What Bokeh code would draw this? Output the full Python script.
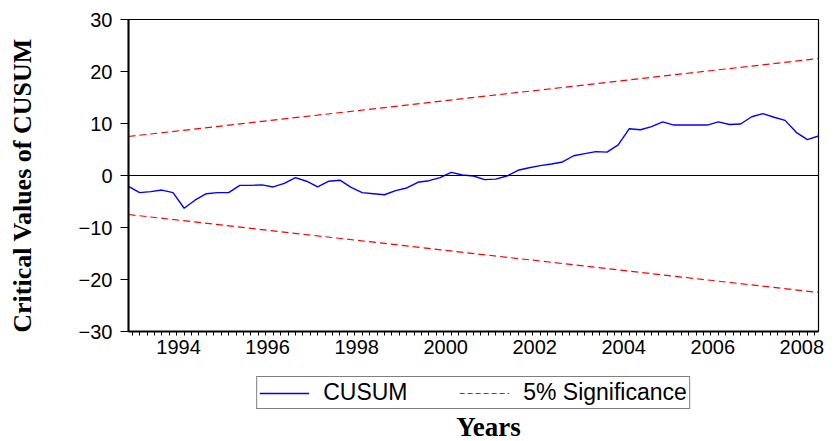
import math
import pandas as pd
from bokeh.plotting import figure
from bokeh.layouts import column, row
from bokeh.models import (Range1d, FixedTicker, CustomJSTickFormatter, Legend,
                          LegendItem, Span, Label)
from bokeh.embed import file_html
from bokeh.resources import INLINE

# ---- data ----
start_period = "1993Q2"
cusum = [-2.1, -3.3, -3.1, -2.8, -3.3, -6.3, -4.7, -3.5, -3.3, -3.3,
         -1.9, -1.9, -1.8, -2.2, -1.5, -0.4, -1.1, -2.2, -1.1, -0.9,
         -2.3, -3.3, -3.5, -3.7, -2.9, -2.4, -1.3, -1.0, -0.4, 0.6,
         0.1, -0.1, -0.8, -0.7, -0.1, 1.0, 1.5, 1.9, 2.2, 2.6,
         3.8, 4.2, 4.6, 4.5, 5.9, 9.0, 8.8, 9.4, 10.3, 9.7,
         9.7, 9.7, 9.7, 10.3, 9.8, 9.9, 11.3, 11.9, 11.2, 10.6,
         8.3, 6.9, 7.6]
upper_bound = [7.5, 22.5]
lower_bound = [-7.5, -22.5]
label_years = [1994, 1996, 1998, 2000, 2002, 2004, 2006, 2008]
y_ticks = [-30, -20, -10, 0, 10, 20, 30]
series_names = ["CUSUM", "5% Significance"]
y_title = "Critical Values of CUSUM"
x_title = "Years"

periods = pd.period_range(start_period, periods=len(cusum), freq="Q")
x = [p.year + (p.quarter - 1) / 4 for p in periods]
x_ends = [x[0], x[-1]]

BLUE = "#0000FF"
RED = "#FF0000"


def blank_figure(w, h, **kw):
    f = figure(width=w, height=h, output_backend="svg", toolbar_location=None,
               x_range=Range1d(0, 1), y_range=Range1d(0, 1),
               x_axis_type=None, y_axis_type=None, **kw)
    f.xgrid.visible = False
    f.ygrid.visible = False
    f.outline_line_color = None
    f.background_fill_color = "white"
    f.border_fill_color = "white"
    return f


# ---- left strip holding the y title (its frame is aligned with the chart's) ----
pl = blank_figure(40, 371, min_border_left=0, min_border_right=0,
                  min_border_top=0, min_border_bottom=0)
pl.add_layout(Label(x=22, y=146, x_units="screen", y_units="screen",
                    angle=math.pi / 2, text=y_title, text_align="center",
                    text_baseline="middle", text_font="Liberation Serif",
                    text_font_style="bold", text_font_size="26px",
                    text_color="black"))

# ---- main chart ----
p = figure(width=794, height=371, output_backend="svg", toolbar_location=None,
           x_range=Range1d(x[0], x[-1]), y_range=Range1d(-30, 30),
           min_border_left=88, min_border_right=16, min_border_top=19,
           min_border_bottom=40)
p.xgrid.visible = False
p.ygrid.visible = False
p.outline_line_color = "black"
p.outline_line_width = 1.2
p.background_fill_color = "white"
p.border_fill_color = "white"

p.add_layout(Span(location=0, dimension="width", line_color="black", line_width=1))

p.line(x, cusum, line_color=BLUE, line_width=1.4)
p.line(x_ends, upper_bound, line_color=RED, line_width=1.2, line_dash="7 4")
p.line(x_ends, lower_bound, line_color=RED, line_width=1.2, line_dash="7 4")

# x axis: quarterly data, year labels centred on each labelled year
minor = []
for yr in range(1993, 2010):
    for k in range(6):
        t = yr + k / 6
        if x[0] <= t <= x[-1] + 1e-9:
            minor.append(t)
xa = p.xaxis[0]
xa.ticker = FixedTicker(ticks=[yr + 0.375 for yr in label_years], minor_ticks=minor)
xa.formatter = CustomJSTickFormatter(code="return String(Math.floor(tick));")
xa.major_tick_out = 0
xa.major_tick_in = 0
xa.minor_tick_out = 4
xa.minor_tick_in = 0
xa.axis_line_width = 2
xa.major_label_text_font = "Liberation Sans"
xa.major_label_text_font_size = "20px"
xa.major_label_text_color = "black"
xa.major_label_standoff = 4

ya = p.yaxis[0]
ya.ticker = FixedTicker(ticks=y_ticks, minor_ticks=[])
ya.major_tick_out = 8
ya.major_tick_in = 0
ya.minor_tick_out = 0
ya.minor_tick_in = 0
ya.axis_line_width = 2
ya.major_label_text_font = "Liberation Sans"
ya.major_label_text_font_size = "20px"
ya.major_label_text_color = "black"
ya.major_label_standoff = 8

# ---- legend and x title strip below the chart ----
p2 = blank_figure(834, 70, min_border_left=128, min_border_right=16,
                  min_border_top=0, min_border_bottom=0)

nan = float("nan")
lr1 = p2.line([nan], [nan], line_color=BLUE, line_width=1.4)
lr2 = p2.line([nan], [nan], line_color=RED, line_width=1.2, line_dash="5 3")

legend = Legend(items=[LegendItem(label=series_names[0], renderers=[lr1]),
                       LegendItem(label=series_names[1], renderers=[lr2])],
                orientation="horizontal", location="top_center",
                border_line_color="black", border_line_width=1,
                padding=2, spacing=30, glyph_width=50, glyph_height=18,
                label_standoff=14, label_width=106,
                label_text_font="Liberation Sans", label_text_font_size="23px",
                label_text_color="black", margin=5)
p2.add_layout(legend, "center")

p2.add_layout(Label(x=0.5, y=0, x_units="data", y_units="screen", x_offset=15,
                    text=x_title, text_align="center", text_baseline="bottom",
                    text_font="Liberation Serif", text_font_style="bold",
                    text_font_size="27px", text_color="black"))

layout = column(row(pl, p, spacing=0), p2, spacing=0)
open("out.html", "w").write(file_html(layout, INLINE))
